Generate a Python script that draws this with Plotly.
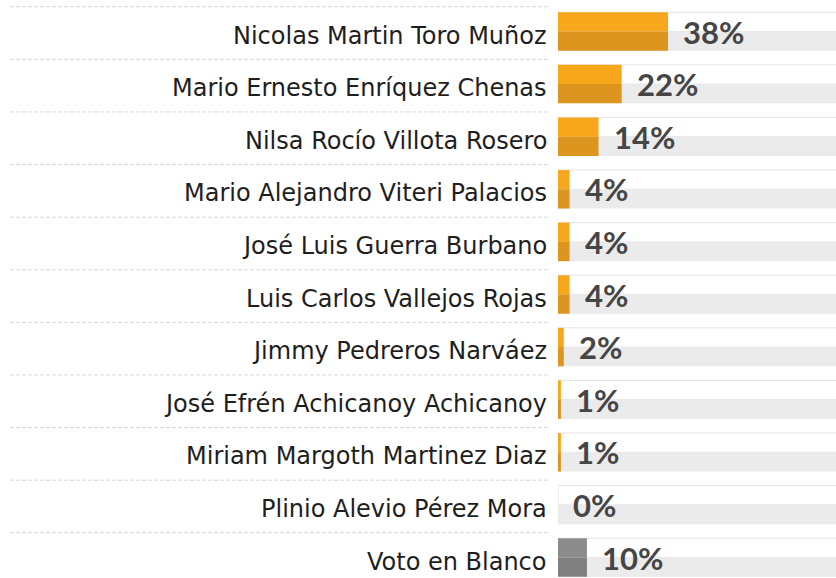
import plotly.graph_objects as go

candidates = [
    "Nicolas Martin Toro Muñoz",
    "Mario Ernesto Enríquez Chenas",
    "Nilsa Rocío Villota Rosero",
    "Mario Alejandro Viteri Palacios",
    "José Luis Guerra Burbano",
    "Luis Carlos Vallejos Rojas",
    "Jimmy Pedreros Narváez",
    "José Efrén Achicanoy Achicanoy",
    "Miriam Margoth Martinez Diaz",
    "Plinio Alevio Pérez Mora",
    "Voto en Blanco",
]
values = [38, 22, 14, 4, 4, 4, 2, 1, 1, 0, 10]
value_labels = ["38%", "22%", "14%", "4%", "4%", "4%", "2%", "1%", "1%", "0%", "10%"]
is_blank = [False] * 10 + [True]

W, H = 836, 578
ML = 558
PW = W - ML

pos = list(range(len(candidates)))
track = [100] * len(candidates)

top_colors = ["#8c8c8c" if b else "#f6a71c" for b in is_blank]
bot_colors = ["#808080" if b else "#dc961f" for b in is_blank]

half = 0.366

fig = go.Figure()
fig.add_trace(go.Bar(y=pos, x=track, orientation="h", offset=-half, width=half,
                     marker=dict(color="#ffffff", line=dict(color="#e4e4e4", width=1)),
                     hoverinfo="skip", showlegend=False))
fig.add_trace(go.Bar(y=pos, x=track, orientation="h", offset=0, width=half,
                     marker=dict(color="#ebebeb", line=dict(width=0)),
                     hoverinfo="skip", showlegend=False))
fig.add_trace(go.Bar(y=pos, x=values, orientation="h", offset=-half, width=half,
                     marker=dict(color=top_colors, line=dict(width=0)),
                     showlegend=False))
fig.add_trace(go.Bar(y=pos, x=values, orientation="h", offset=0, width=half,
                     marker=dict(color=bot_colors, line=dict(width=0)),
                     showlegend=False))

annotations = []
for i, (name, v, lab) in enumerate(zip(candidates, values, value_labels)):
    annotations.append(dict(x=v, y=i, xref="x", yref="y", text=lab, showarrow=False,
                            xanchor="left", yanchor="middle", xshift=13, yshift=0,
                            font=dict(family="Lato", size=31, color="#454545", weight="bold")))
    annotations.append(dict(x=-9 / PW, y=i, xref="paper", yref="y", text=name, showarrow=False,
                            xanchor="right", yanchor="middle", yshift=-4,
                            font=dict(family="DejaVu Sans", size=24, color="#1e1e1e")))

shapes = []
for i in pos:
    shapes.append(dict(type="line", xref="paper", yref="y",
                       x0=(10 - ML) / PW, x1=(550 - ML) / PW, y0=i - 0.47, y1=i - 0.47,
                       line=dict(color="#d8d8d8", width=1, dash="4px,2px")))

px_per_unit = 52.6
fig.update_layout(
    width=W, height=H,
    margin=dict(l=ML, r=0, t=0, b=0),
    paper_bgcolor="white", plot_bgcolor="white",
    barmode="overlay",
    xaxis=dict(range=[0, PW / 2.895], showgrid=False, zeroline=False, showticklabels=False,
               fixedrange=True),
    yaxis=dict(range=[10 + 20.5 / px_per_unit, -31.5 / px_per_unit], showgrid=False,
               zeroline=False, showticklabels=False, fixedrange=True),
    annotations=annotations,
    shapes=shapes,
)

fig.write_html("out.html", config={"displayModeBar": False},
               post_script="document.body.style.margin='0';")
